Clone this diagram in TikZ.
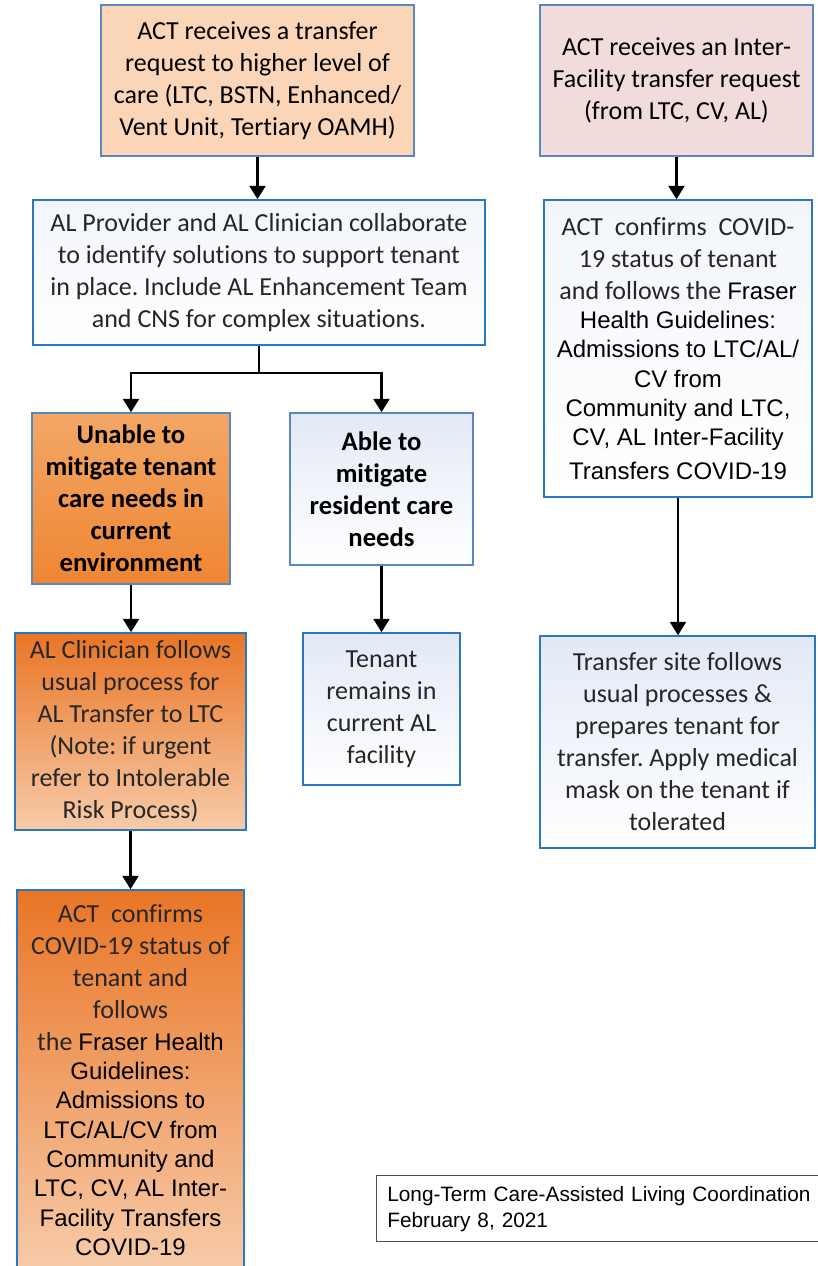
\documentclass[tikz,border=0pt]{standalone}
\usepackage{fontspec}
\setmainfont{Carlito}[Ligatures=NoCommon]
\newfontfamily\arialfont{Liberation Sans}
\newcommand{\guidefont}{\arialfont\fontsize{18}{22}\selectfont}
\usetikzlibrary{arrows.meta, positioning}
\frenchspacing

\definecolor{peach}{HTML}{FBD5B7}
\definecolor{rose}{HTML}{F2DCDB}
\definecolor{steel}{HTML}{5B87C0}
\definecolor{ocean}{HTML}{2A78C2}
\definecolor{paleblue}{HTML}{E2E9F5}
\definecolor{orangelight}{HTML}{F3A766}
\definecolor{orangemid}{HTML}{EF8633}
\definecolor{orangedark}{HTML}{E97526}
\definecolor{orangepale}{HTML}{F7CBA9}

\begin{document}
\begin{tikzpicture}[
    x=0.75pt, y=-0.75pt,
    box/.style={rectangle, draw=steel, line width=1.2pt, align=center, inner sep=0pt,
                font=\fontsize{19.5}{24}\selectfont},
    lightbox/.style={box, draw=ocean, top color=paleblue, bottom color=white, text=black!85},
    boldtext/.style={font=\fontsize{20}{24}\selectfont\bfseries},
    arrow/.style={-{Triangle[width=12pt,length=10pt]}, line width=1.6pt},
    link/.style={line width=1.6pt}
]
\useasboundingbox (0,0) rectangle (817,1266);

% ==================== TOP REQUESTS ====================
\node[box, fill=peach, minimum width=234.75pt, minimum height=113.25pt] (higher-care) at (257.5,80.5)
    {ACT receives a transfer\\request to higher level of\\care (LTC, BSTN, Enhanced/\\Vent Unit, Tertiary OAMH)};
\node[box, fill=rose, minimum width=204.75pt, minimum height=113.25pt] (inter-facility) at (676.5,80.5)
    {ACT receives an Inter-\\Facility transfer request\\(from LTC, CV, AL)};

% ==================== LEFT BRANCH ====================
\node[lightbox, top color=paleblue!45, minimum width=339pt, minimum height=108.75pt] (collaborate) at (259,272.5)
    {AL Provider and AL Clinician collaborate\\to identify solutions to support tenant\\in place. Include AL Enhancement Team\\and CNS for complex situations.};

\node[box, boldtext, top color=orangelight, bottom color=orangemid, minimum width=148.5pt, minimum height=128.25pt] (unable) at (131,498.5)
    {Unable to\\mitigate tenant\\care needs in\\current\\environment};
\node[lightbox, boldtext, draw=steel, text=black, minimum width=137.25pt, minimum height=114pt] (able) at (381.5,489)
    {Able to\\mitigate\\resident care\\needs};

\node[box, draw=ocean, top color=orangedark, bottom color=orangepale, text=black!85, minimum width=173.25pt, minimum height=147.75pt] (clinician) at (130.5,731.5)
    {AL Clinician follows\\usual process for\\AL Transfer to LTC\\(Note: if urgent\\refer to Intolerable\\Risk Process)};
\node[lightbox, minimum width=117.75pt, minimum height=114pt] (remains) at (381.5,709)
    {Tenant\\remains in\\current AL\\facility};

\node[box, draw=ocean, top color=orangedark, bottom color=orangepale, text=black!85, minimum width=170.25pt, minimum height=285pt] (confirm-left) at (130.5,1080)
    {ACT\ \ confirms\\COVID-19 status of\\tenant and\\follows\\the {\guidefont\color{black}Fraser Health}\\[-2pt]
     {\guidefont\color{black}Guidelines:}\\[-2pt]{\guidefont\color{black}Admissions to}\\[-2pt]{\guidefont\color{black}LTC/AL/CV from}\\[-2pt]
     {\guidefont\color{black}Community and}\\[-2pt]{\guidefont\color{black}LTC, CV, AL Inter-}\\[-2pt]{\guidefont\color{black}Facility Transfers}\\[-2pt]
     {\guidefont\color{black}COVID-19}};

% ==================== RIGHT BRANCH ====================
\node[lightbox, top color=paleblue!45, minimum width=201pt, minimum height=222.75pt] (confirm-right) at (678,348.5)
    {ACT\ \ confirms\ \ COVID-\\19 status of tenant\\and follows the {\guidefont\color{black}Fraser}\\[-2pt]
     {\guidefont\color{black}Health Guidelines:}\\[-2pt]{\guidefont\color{black}Admissions to LTC/AL/}\\[-2pt]{\guidefont\color{black}CV from}\\[-2pt]
     {\guidefont\color{black}Community and LTC,}\\[-2pt]{\guidefont\color{black}CV, AL Inter-Facility}\\[1pt]{\guidefont\color{black}Transfers COVID-19}};
\node[lightbox, minimum width=206.25pt, minimum height=159pt] (transfer-prep) at (677.5,742)
    {Transfer site follows\\usual processes \&\\prepares tenant for\\transfer. Apply medical\\mask on the tenant if\\tolerated};

% ==================== FOOTER ====================
\node[draw=black!70, line width=1pt, anchor=north west, text width=360pt, minimum height=49.5pt,
      inner xsep=8pt, align=left, font=\arialfont\fontsize{15.6}{19.5}\selectfont] (footer) at (376,1175)
    {Long-Term Care-Assisted Living Coordination\\February 8, 2021};

% ==================== ARROWS ====================
\coordinate (split) at (collaborate.south |- 0,373);
\draw[arrow] (higher-care.south) -- (higher-care.south |- collaborate.north);
\draw[link] (collaborate.south) -- (split);
\draw[arrow] (split) -| (unable.north);
\draw[arrow] (split) -| (able.north);
\draw[arrow] (unable.south) -- (unable.south |- clinician.north);
\draw[arrow] (able.south) -- (able.south |- remains.north);
\draw[arrow] (clinician.south) -- (clinician.south |- confirm-left.north);

\draw[arrow] (inter-facility.south) -- (inter-facility.south |- confirm-right.north);
\draw[arrow] (confirm-right.south) -- (confirm-right.south |- transfer-prep.north);

\end{tikzpicture}
\end{document}
